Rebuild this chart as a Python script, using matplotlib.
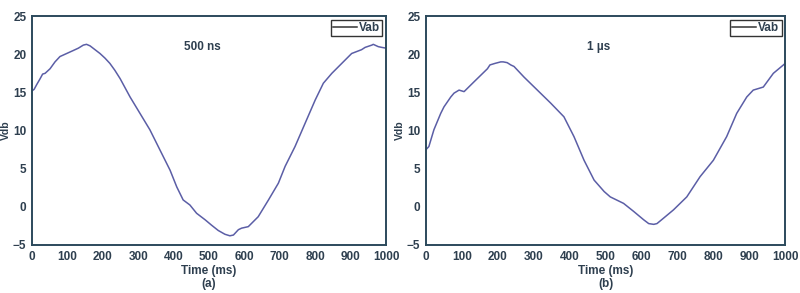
import matplotlib.pyplot as plt

# (a) 500 ns
t_a = [0, 6, 13, 23, 30, 37, 51, 65, 79, 98, 117, 131, 145, 154, 164, 178, 192,
       206, 220, 234, 249, 277, 305, 333, 362, 390, 409, 427, 446, 465, 489, 507,
       526, 545, 559, 569, 583, 592, 611, 639, 668, 696, 715, 743, 771, 800, 823,
       847, 875, 903, 931, 941, 960, 964, 978, 988, 1000]
v_a = [15.2, 15.4, 16.0, 16.8, 17.4, 17.5, 18.1, 19.0, 19.7, 20.1, 20.5, 20.8,
       21.2, 21.3, 21.1, 20.6, 20.1, 19.5, 18.8, 17.9, 16.8, 14.4, 12.25, 10.1,
       7.4, 4.8, 2.6, 0.9, 0.24, -0.85, -1.7, -2.4, -3.1, -3.6, -3.8, -3.7, -3.0,
       -2.8, -2.6, -1.3, 0.9, 3.1, 5.3, 7.9, 10.9, 14.0, 16.2, 17.5, 18.8, 20.1,
       20.6, 20.9, 21.2, 21.3, 21.0, 20.9, 20.8]

# (b) 1 us
t_b = [0, 8, 22, 41, 50, 69, 78, 92, 106, 134, 171, 178, 192, 208, 215, 226,
       236, 245, 259, 273, 310, 347, 384, 412, 440, 468, 496, 513, 550, 578, 606,
       620, 634, 643, 661, 689, 726, 763, 800, 837, 865, 893, 911, 939, 967, 995,
       1000]
v_b = [7.5, 7.9, 10.1, 12.25, 13.1, 14.4, 14.9, 15.3, 15.1, 16.4, 18.1, 18.6,
       18.8, 19.0, 19.0, 18.9, 18.6, 18.4, 17.7, 17.0, 15.3, 13.6, 11.8, 9.2, 6.1,
       3.5, 2.0, 1.3, 0.45, -0.6, -1.7, -2.2, -2.3, -2.2, -1.5, -0.4, 1.3, 3.95,
       6.1, 9.2, 12.25, 14.4, 15.3, 15.7, 17.5, 18.6, 18.8]

x_ticks = list(range(0, 1001, 100))
y_ticks = [-5, 0, 5, 10, 15, 20, 25]

plt.rcParams['font.family'] = ['Liberation Sans', 'DejaVu Sans']
line_color = '#5b5ea6'
spine_color = '#2c4a5c'
text_color = '#2e3f4f'
fs = 8.5

fig = plt.figure(figsize=(8, 2.93), dpi=100)
panels = [
    ([0.040, 0.164, 0.4425, 0.781], t_a, v_a, '500 ns', '(a)', -0.059),
    ([0.5325, 0.164, 0.449, 0.781], t_b, v_b, '1 µs', '(b)', -0.058),
]

for rect, t, v, note, tag, ylab_x in panels:
    ax = fig.add_axes(rect)
    ax.plot(t, v, color=line_color, lw=1.1, label='Vab')
    ax.set_xlim(0, 1000)
    ax.set_ylim(-5, 25)
    ax.set_xticks(x_ticks)
    ax.set_yticks(y_ticks)
    ax.tick_params(length=0, pad=4, labelsize=fs, colors=text_color)
    for lbl in ax.get_xticklabels() + ax.get_yticklabels():
        lbl.set_fontweight('bold')
    for s in ax.spines.values():
        s.set_color(spine_color)
        s.set_linewidth(1.4)
    ax.set_xlabel('Time (ms)', fontsize=fs, fontweight='bold',
                  color=text_color, labelpad=2)
    ax.set_ylabel('Vdb', fontsize=7.5, fontweight='bold', color=text_color)
    ax.yaxis.set_label_coords(ylab_x, 0.5)
    ax.text(480, 20.9, note, ha='center', va='center', fontsize=fs,
            fontweight='bold', color=text_color)
    ax.text(0.5, -0.17, tag, transform=ax.transAxes, ha='center',
            va='center', fontsize=fs, fontweight='bold', color=text_color)
    leg = ax.legend(loc='upper right', fontsize=fs, handlelength=2.0,
                    handletextpad=0.2, borderpad=0.2, borderaxespad=0.3,
                    fancybox=False, framealpha=1)
    leg.get_frame().set_edgecolor('#333333')
    leg.get_frame().set_linewidth(1.0)
    for txt in leg.get_texts():
        txt.set_fontweight('bold')
        txt.set_color(text_color)
    leg.get_lines()[0].set_color('#333333')

fig.savefig('out.png', dpi=100)
